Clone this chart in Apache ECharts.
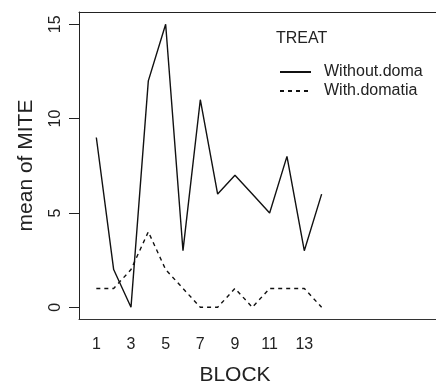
<!DOCTYPE html>
<html>
<head>
<meta charset="utf-8">
<script src="https://cdn.jsdelivr.net/npm/echarts@6/dist/echarts.min.js"></script>
<style>
  html, body { margin: 0; padding: 0; background: #fff; }
  #chart { width: 436px; height: 385px; }
</style>
</head>
<body>
<div id="chart"></div>
<script>
// Interaction plot: mean mite count per block, by treatment
const blocks = [1, 2, 3, 4, 5, 6, 7, 8, 9, 10, 11, 12, 13, 14];
const withoutDoma = [9, 2, 0, 12, 15, 3, 11, 6, 7, 6, 5, 8, 3, 6];
const withDomatia = [1, 1, 2, 4, 2, 1, 0, 0, 1, 0, 1, 1, 1, 0];
const seriesNames = ['Without.doma', 'With.domatia'];
const xTickLabels = [1, 3, 5, 7, 9, 11, 13];
const yTickLabels = [0, 5, 10, 15];

const FONT = 'Liberation Sans, Arial, Helvetica, sans-serif';
const INK = '#111';

const pairs = (ys) => blocks.map((b, i) => [b, ys[i]]);

const chart = echarts.init(document.getElementById('chart'), null, { renderer: 'canvas' });
chart.setOption({
  animation: false,
  backgroundColor: '#fff',
  grid: { left: 79, top: 12, right: 0, bottom: 66 },
  title: {
    text: 'TREAT',
    left: 276, top: 31, padding: 0,
    textStyle: { fontFamily: FONT, fontSize: 16, fontWeight: 'normal', color: '#222' }
  },
  legend: {
    orient: 'vertical',
    left: 279, top: 64, padding: 0,
    itemWidth: 31, itemHeight: 16, itemGap: 3,
    data: seriesNames,
    itemStyle: { opacity: 0 },
    textStyle: { fontFamily: FONT, fontSize: 16, color: '#222', padding: [0, 0, 0, 8] }
  },
  xAxis: [{
    type: 'value', min: 0, max: 20.6,
    splitLine: { show: false },
    axisLine: { show: true, onZero: false, lineStyle: { color: '#333', width: 1 } },
    axisTick: { show: false },
    axisLabel: {
      customValues: xTickLabels, margin: 18,
      fontFamily: FONT, fontSize: 16, color: '#222'
    }
  }, {
    type: 'value', position: 'top', min: 0, max: 20.6,
    splitLine: { show: false },
    axisLine: { show: true, onZero: false, lineStyle: { color: '#222', width: 1 } },
    axisTick: { show: false }, axisLabel: { show: false }
  }],
  yAxis: {
    type: 'value', min: -0.62, max: 15.65,
    name: 'mean of MITE', nameLocation: 'middle', nameRotate: 90, nameGap: 42,
    nameTextStyle: { fontFamily: FONT, fontSize: 21, color: '#222' },
    splitLine: { show: false },
    axisLine: { show: true, onZero: false, lineStyle: { color: '#222', width: 1 } },
    axisTick: { show: true, customValues: yTickLabels, length: 10, lineStyle: { color: '#222' } },
    axisLabel: {
      customValues: yTickLabels, rotate: 90, margin: 15,
      fontFamily: FONT, fontSize: 16, color: '#222'
    }
  },
  graphic: [{
    type: 'text',
    style: { text: 'BLOCK', font: '21px ' + FONT, fill: '#222', x: 235, y: 375, align: 'center', verticalAlign: 'middle' }
  }],
  series: [{
    name: seriesNames[0], type: 'line', data: pairs(withoutDoma),
    symbol: 'none', color: INK,
    lineStyle: { color: INK, width: 1.4, type: 'solid' }
  }, {
    name: seriesNames[1], type: 'line', data: pairs(withDomatia),
    symbol: 'none', color: INK,
    lineStyle: { color: INK, width: 1.4, type: [4, 4] }
  }]
});
</script>
</body>
</html>
